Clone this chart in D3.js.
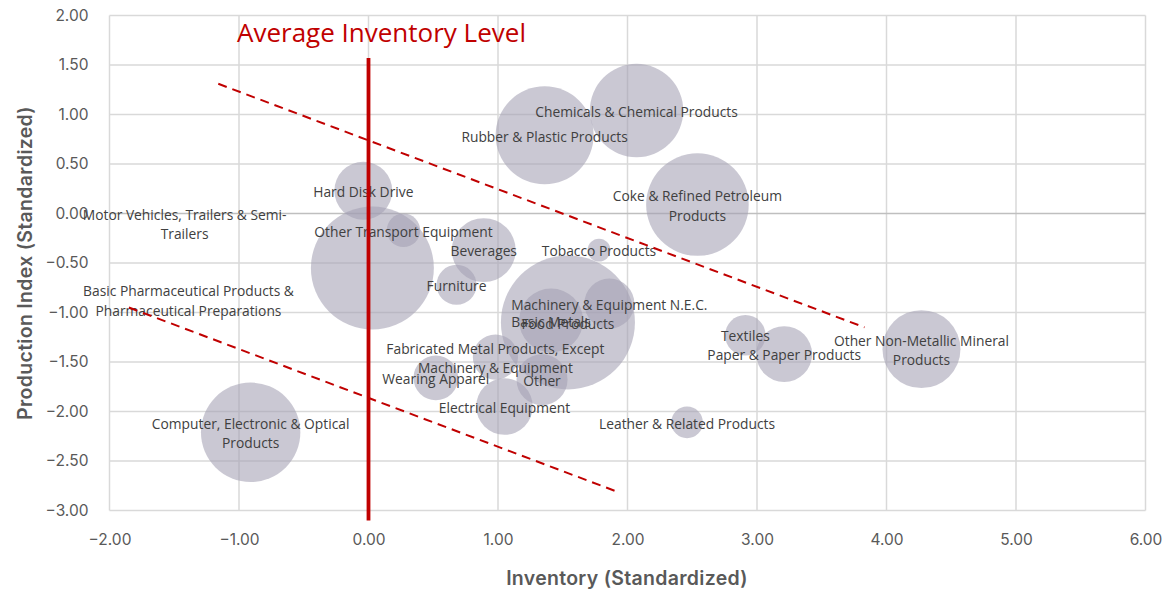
<!DOCTYPE html>
<html>
<head>
<meta charset="utf-8">
<script src="https://cdn.jsdelivr.net/npm/d3@7"></script>
<style>
  html, body { margin: 0; padding: 0; background: #fff; }
  svg { display: block; }
</style>
</head>
<body>
<svg id="chart" width="1173" height="589"></svg>
<script>
// ---------------- DATA ----------------
const industries = [
  "Hard Disk Drive",
  "Motor Vehicles, Trailers & Semi-|Trailers",
  "Other Transport Equipment",
  "Beverages",
  "Furniture",
  "Tobacco Products",
  "Rubber & Plastic Products",
  "Chemicals & Chemical Products",
  "Coke & Refined Petroleum|Products",
  "Food Products",
  "Basic Metals",
  "Machinery & Equipment N.E.C.",
  "Fabricated Metal Products, Except|Machinery & Equipment",
  "Wearing Apparel",
  "Other",
  "Electrical Equipment",
  "Leather & Related Products",
  "Textiles",
  "Paper & Paper Products",
  "Other Non-Metallic Mineral|Products",
  "Computer, Electronic & Optical|Products",
  "Basic Pharmaceutical Products &|Pharmaceutical Preparations"
];
const inventory = [-0.04, 0.03, 0.27, 0.89, 0.68, 1.78, 1.36, 2.07, 2.54, 1.54, 1.41, 1.86, 0.98, 0.52, 1.34, 1.05, 2.46, 2.91, 3.21, 4.27, -0.91, -1.39];
const production = [0.23, -0.55, -0.17, -0.37, -0.72, -0.37, 0.79, 1.04, 0.09, -1.10, -1.08, -0.91, -1.45, -1.66, -1.68, -1.95, -2.11, -1.23, -1.42, -1.37, -2.21, -0.87];
const bubbleSize = [8.4, 37.8, 2.8, 10.2, 4.0, 1.3, 24.0, 21.8, 26.3, 44.9, 10.2, 6.25, 5.1, 5.0, 6.5, 8.0, 2.5, 4.1, 7.8, 15.2, 24.7, 0];
// label anchors that were moved away from the bubble (data units); null = centred on bubble
const labelAnchorX = [null, -1.42, null, null, null, null, null, null, null, null, null, null, null, null, null, null, null, null, null, null, null, null];
const labelAnchorY = [null, -0.10, null, null, null, null, null, null, null, null, null, null, null, null, null, null, null, null, null, null, null, null];

const xTicks = [-2, -1, 0, 1, 2, 3, 4, 5, 6];
const yTicks = [2, 1.5, 1, 0.5, 0, -0.5, -1, -1.5, -2, -2.5, -3];
const xDomain = [-2, 6];
const yDomain = [-3, 2];

const averageLineX = 0;
const averageLineY = [1.57, -3.1];
const averageLabel = "Average Inventory Level";
const upperBand = [[-1.16, 1.31], [3.83, -1.15]];
const lowerBand = [[-1.85, -0.95], [1.90, -2.80]];

const xTitle = "Inventory (Standardized)";
const yTitle = "Production Index (Standardized)";

// ---------------- CHART ----------------
const svg = d3.select("#chart");
const margin = { left: 109.5, right: 1145.5, top: 15.5, bottom: 510.5 };

const x = d3.scaleLinear().domain(xDomain).range([margin.left, margin.right]);
const y = d3.scaleLinear().domain(yDomain).range([margin.bottom, margin.top]);
const r = d3.scaleSqrt().domain([0, 100]).range([0, 100]);

const fmt = v => d3.format(".2f")(v).replace("-", "\u2212");
const tickFont = "Inter, 'Noto Sans', sans-serif";
const labelFont = "'Open Sans', sans-serif";
const greyText = "#595959";

// gridlines
const grid = svg.append("g");
grid.selectAll("line.v").data(xTicks).join("line")
  .attr("x1", d => x(d)).attr("x2", d => x(d))
  .attr("y1", y(yDomain[1])).attr("y2", y(yDomain[0]))
  .attr("stroke", "#d9d9d9").attr("stroke-width", 1.5);
grid.selectAll("line.h").data(yTicks).join("line")
  .attr("x1", x(xDomain[0])).attr("x2", x(xDomain[1]))
  .attr("y1", d => y(d)).attr("y2", d => y(d))
  .attr("stroke", d => d === 0 ? "#bfbfbf" : "#d9d9d9").attr("stroke-width", 1.5);

// axes via d3
const xAxis = svg.append("g")
  .attr("transform", `translate(0,${y(yDomain[0])})`)
  .call(d3.axisBottom(x).tickValues(xTicks).tickFormat(fmt).tickSize(0).tickPadding(23));
const yAxis = svg.append("g")
  .attr("transform", `translate(${x(xDomain[0])},0)`)
  .call(d3.axisLeft(y).tickValues(yTicks).tickFormat(fmt).tickSize(0).tickPadding(21));
[xAxis, yAxis].forEach(a => {
  a.select(".domain").remove();
  a.selectAll("text").attr("fill", greyText).style("font-family", tickFont).style("font-size", "15.5px");
});

// bubbles
const data = industries.map((name, i) => ({
  name, x: inventory[i], y: production[i], s: bubbleSize[i],
  lx: labelAnchorX[i] == null ? inventory[i] : labelAnchorX[i],
  ly: labelAnchorY[i] == null ? production[i] : labelAnchorY[i]
}));

svg.append("g").selectAll("circle").data(data.filter(d => d.s > 0)).join("circle")
  .attr("cx", d => x(d.x)).attr("cy", d => y(d.y)).attr("r", d => r(d.s))
  .attr("fill", "#a3a0b4").attr("fill-opacity", 0.58);

// labels
const lineH = 19.5;
const labels = svg.append("g").selectAll("text").data(data).join("text")
  .attr("text-anchor", "middle")
  .attr("fill", "#404040")
  .style("font-family", labelFont).style("font-size", "13.8px");
labels.each(function(d) {
  const lines = d.name.split("|");
  const t = d3.select(this);
  const cy = y(d.ly), cx = x(d.lx);
  lines.forEach((ln, k) => {
    t.append("tspan").attr("x", cx)
      .attr("y", cy + (k - (lines.length - 1) / 2) * lineH)
      .attr("dy", "0.45em").text(ln);
  });
});

// dashed bands
const line = d3.line().x(d => x(d[0])).y(d => y(d[1]));
[upperBand, lowerBand].forEach(b => {
  svg.append("path").attr("d", line(b)).attr("fill", "none")
    .attr("stroke", "#c00000").attr("stroke-width", 2).attr("stroke-dasharray", "9,6");
});

// average inventory line
svg.append("line")
  .attr("x1", x(averageLineX)).attr("x2", x(averageLineX))
  .attr("y1", y(averageLineY[0])).attr("y2", y(averageLineY[1]))
  .attr("stroke", "#c00000").attr("stroke-width", 3.8);
svg.append("text").attr("x", 237).attr("y", 42)
  .attr("fill", "#c00000").style("font-family", labelFont).style("font-size", "26px")
  .text(averageLabel);

// axis titles
svg.append("text").attr("x", 627).attr("y", 585).attr("text-anchor", "middle")
  .attr("fill", greyText).style("font-family", tickFont).style("font-weight", 600)
  .style("font-size", "19.5px").style("letter-spacing", "0.3px")
  .text(xTitle);
svg.append("text").attr("transform", `translate(32,263) rotate(-90)`)
  .attr("text-anchor", "middle")
  .attr("fill", greyText).style("font-family", tickFont).style("font-weight", 600)
  .style("font-size", "19.5px").style("letter-spacing", "0.3px")
  .text(yTitle);
</script>
</body>
</html>
